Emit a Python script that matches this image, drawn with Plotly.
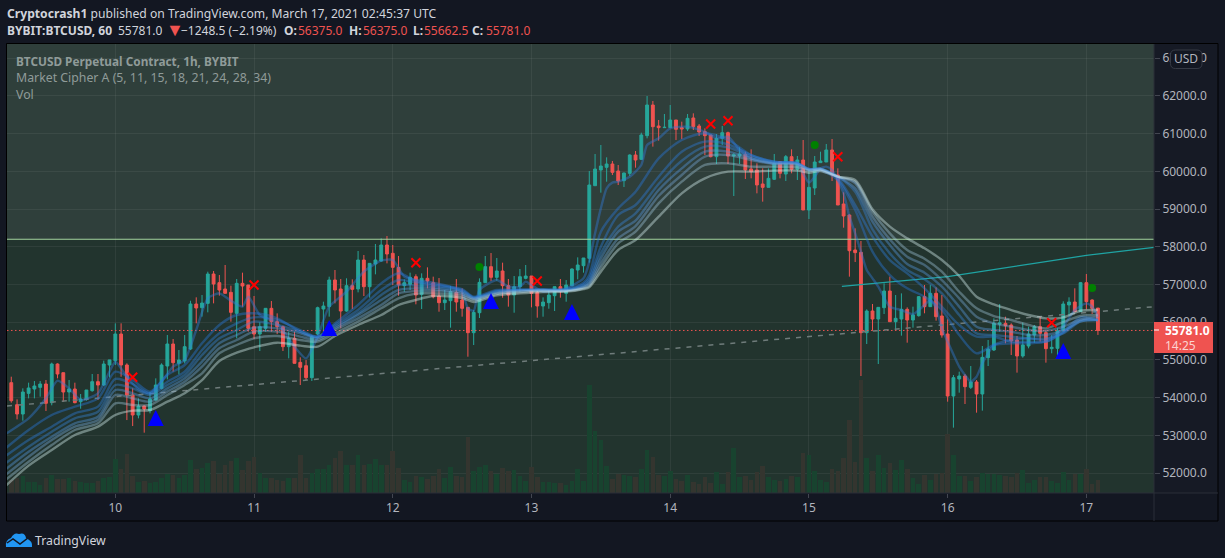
import plotly.graph_objects as go

# hours since March 10 00:00, first candle is March 9 06:00
hours = list(range(-18, 171))

opens = [54396,53812,53565,54113,54228,54272,54361,53866,54891,54661,54148,54228,53892,53954,54184,54423,54334,54865,
54980,55687,54865,54069,53538,53777,53653,53936,54246,54838,55422,54909,54971,55289,56483,56385,56500,57278,57049,56881,56792,56235,57031,56987,
55881,55687,55837,56368,56014,55881,55351,55572,54935,54847,54529,55687,56350,56412,57120,56881,56297,56969,56881,57650,56942,57544,57623,58048,
57827,57455,56969,57004,57208,56739,57164,57048,56695,56518,56571,56792,56589,56394,55722,56252,57048,57473,57190,57358,56969,56721,56942,57163,
57225,56792,56429,56518,56703,56942,56765,56969,57384,57499,57694,59621,60037,60108,60196,60010,59754,59948,60435,60320,60948,61761,61204,61160,
61160,61363,61160,61125,61417,61204,61054,60966,60391,60877,61027,60408,60408,60453,60064,60037,59666,59577,59790,60258,59931,60391,60055,60302,
58976,59560,60232,60249,60568,59905,59135,58843,57915,57853,55722,56297,56085,56385,56827,56014,56085,56341,56058,56174,56678,56412,56766,56165,
55687,54043,54494,54573,54272,54414,54096,55059,55263,55949,55970,55926,55528,55104,55369,55661,55882,55723,55298,55307,55776,56457,56536,56280,
57049,56589,56375]
highs = [54555,53954,54246,54396,54440,54440,54467,54927,54909,54661,54467,54396,54095,54201,54626,54626,54980,55000,
55970,55970,54909,54246,53980,53790,54157,54511,54909,55660,55554,55262,55660,56570,56660,56721,57340,57358,57252,57517,56969,57146,57314,56987,
56695,55997,56368,56562,56235,55908,55749,55749,55068,54997,55660,56412,56544,57208,57385,57146,57164,57137,57889,57783,57561,58074,58225,58286,
58048,57756,57137,57314,57270,57296,57455,57208,57172,56854,56960,57146,56898,56394,56323,57163,57756,57835,57703,57579,57146,57225,57411,57517,
57225,56854,56659,56854,56942,57146,57119,57429,57720,57703,60010,60461,60700,60373,60276,60170,59966,60453,60541,61027,62000,61867,61363,61522,
61761,61363,61319,61522,61540,61257,61142,60966,60992,61204,61054,60480,60638,60523,60585,60214,60081,60081,60462,60276,60435,60585,60408,60833,
60081,60408,60523,60727,60859,60081,59445,58861,58490,58154,56341,56483,56394,57031,57208,56721,56765,56394,56412,56695,56987,56987,56925,56722,
56076,54600,54688,54626,54838,54467,55369,55528,56103,56483,56147,55970,55634,55988,55882,55926,56147,55793,55661,55838,56554,56660,56899,57067,
57279,56607,56375]
lows = [53866,53423,53388,53980,53980,54025,53644,53795,54511,53892,53892,53848,53706,53918,54157,53936,54308,54537,
54865,54555,53405,53246,53450,53070,53583,53918,54219,54484,54688,54617,54909,55263,55970,56147,56262,56500,56704,56766,56014,55572,56412,55749,
55554,55236,55749,55749,55687,55236,55041,54909,54334,54467,54440,55660,55731,56147,56500,55837,56279,56350,56792,56695,56651,57270,57606,57561,
56987,56704,56810,56854,56474,56350,56898,56633,56279,56323,55855,56279,56147,55085,55395,56111,57048,57092,57101,56650,56412,56252,56809,57137,
56394,56120,56146,56358,56297,56650,56544,56969,57137,57314,57579,59621,59436,59727,59904,59639,59586,59878,60099,60302,60877,60656,60815,61160,
61160,60833,60859,61071,61098,60939,60435,60373,60196,60700,60196,59347,60196,59798,59816,59418,59197,59577,59772,59816,59745,59949,59772,58976,
58737,59374,60232,60249,59745,59109,58507,57208,57597,54573,55422,55775,54891,56217,56014,55793,55643,55457,55855,56147,56236,56412,56041,55590,
53892,53203,54131,53830,54228,53601,53654,54838,55236,55749,55440,55130,54662,55059,55307,55457,55484,54927,55175,55069,55758,56165,56262,56280,
56342,56218,55662]
closes = [53918,53565,54148,54255,54308,54361,53848,54891,54626,54148,54228,53866,53963,54201,54423,54334,54891,55000,
55687,54865,54069,53538,53777,53697,53963,54334,54865,55422,54927,54997,55351,56483,56377,56509,57278,57013,56854,56766,56262,57031,56960,55837,
55687,55881,56368,56014,55881,55351,55572,54909,54803,54529,55616,56385,56429,57120,56854,56297,56969,56872,57650,56942,57561,57650,58048,57809,
57455,56987,57049,57190,56721,57164,57093,56677,56518,56589,56809,56536,56368,55722,56261,57057,57473,57190,57358,56969,56721,56942,57207,57225,
56765,56429,56535,56721,56942,56836,56986,57411,57517,57703,59639,60063,60143,60196,59975,59745,59957,60435,60302,60965,61761,61186,61160,61169,
61363,61116,61125,61407,61187,61045,60948,60391,60877,61027,60408,60444,60461,60037,59993,59640,59577,59816,60214,59949,60391,60055,60302,58976,
59577,60249,60276,60568,59905,59109,58817,57897,57845,55722,56297,56085,56394,56827,56014,56103,56341,56058,56191,56678,56412,56766,56147,55661,
54043,54529,54573,54290,54414,54096,55068,55289,55970,55985,55908,55502,55104,55396,55687,55882,55705,55298,55334,55776,56483,56536,56280,57049,
56545,56368,55781]
volumes = [40,45,52,32,32,25,45,55,42,42,45,35,32,30,30,37,45,48,
102,72,118,52,34,36,30,33,45,58,55,45,55,100,72,75,90,97,58,83,95,105,70,97,
108,60,45,45,40,37,45,45,115,45,60,73,73,83,105,125,85,83,115,83,87,102,85,85,
125,75,40,32,52,47,42,52,72,45,77,52,47,167,65,77,85,65,57,75,65,70,52,35,
77,48,32,32,30,30,25,35,72,35,325,187,160,80,42,58,55,52,48,73,130,108,55,52,
65,42,35,55,32,28,48,30,62,28,62,135,47,52,38,62,82,47,38,37,42,52,47,120,
115,65,40,32,72,65,105,220,92,338,105,65,115,75,90,70,98,72,45,28,55,38,58,60,
178,115,52,52,35,47,60,58,58,55,52,47,60,70,30,40,48,48,35,30,62,38,57,57,
72,28,38]

# Market Cipher ribbon; the fast line has its own sample hours
fast_hours = [-19,-15,-12,-10,-8,-6,-3,-1,0,2,4,6,8,10,12,14,16,18,20,22,23,25,28,31,33,35,37,40,43,46,48,50,52,55,58,60,61,62,63,66,68,70,71,72,74,78,81,82,83,84,85,86,87,89,91,92,94,96,99,102,104,106,108,110,112,114,116,118,119,120,121,122,123,124,126,127,128,129,130,131,132,134,136,138,140,141,142,143,144,146,147,148,149,150,151,152,155,158,161,163,164,166,168,169,170]
ema_fast = [53035,53450,53981,54449,54246,53937,54113,54688,54953,54555,54220,54113,54423,54821,54998,55793,56633,56766,56571,56412,56678,56191,55970,55351,55042,55617,56412,56810,57341,57633,57650,57208,57119,57048,56942,56809,56367,56306,56854,57119,56942,56942,57075,56986,56809,56898,57163,57605,58357,59020,59551,59701,59727,59860,60170,60700,60877,61142,61186,61050,60877,60921,60568,60347,60258,60214,60241,60232,59949,59701,59860,60081,60126,60037,59418,58799,58357,57870,57384,57163,56942,56411,56323,56217,56456,56588,56367,55837,55483,54820,54599,54422,54555,54908,55174,55395,55527,55572,55527,55704,55881,56323,56500,56411,56146]

slow_hours = [-19,-15,-11,-7,-3,0,3,6,9,12,15,18,21,24,28,32,35,38,42,46,49,52,55,60,62,66,70,74,78,81,82,84,87,90,94,98,102,106,110,114,118,120,122,125,128,131,134,137,140,143,146,149,152,155,158,161,164,167,170]
ema_2 = [52655,53141,53539,53760,53981,54688,54467,54158,54600,54865,55440,55926,56191,56236,56103,55749,55617,55970,56457,57031,57297,57093,57004,56880,56677,56854,56871,56854,56880,57048,57252,58401,59020,59462,60346,60833,61010,60833,60435,60258,60214,60037,60037,59771,58976,57870,57251,56898,56677,56323,55660,55174,55395,55439,55439,55483,55748,56129,56058]
ema_3 = [52451,52876,53229,53583,53760,54494,54361,54113,54423,54688,55263,55705,55970,56129,56059,55793,55617,55926,56324,56854,57120,57049,56969,56854,56659,56827,56854,56871,56854,57004,57163,58003,58843,59108,59860,60523,60789,60718,60435,60258,60214,60064,60064,59816,59108,58268,57649,57296,56898,56411,55925,55616,55616,55483,55483,55483,55722,56058,56058]
ema_4 = [52257,52699,53097,53450,53627,54334,54246,54069,54334,54600,55130,55572,55793,56014,55926,55749,55599,55882,56236,56722,56987,56969,56925,56827,56650,56810,56854,56871,56854,56969,57101,57826,58534,58887,59666,60284,60656,60638,60391,60241,60214,60064,60064,59860,59462,58463,57826,57384,57137,56765,56190,55704,55660,55616,55572,55572,55704,56022,56058]
ema_5 = [52097,52566,52964,53318,53494,54202,54113,53981,54246,54511,54953,55440,55661,55855,55838,55705,55572,55838,56191,56589,56854,56898,56880,56783,56633,56783,56845,56854,56845,56942,57048,57694,58401,58693,59506,60081,60523,60523,60347,60214,60196,60055,60073,59860,59550,58666,58047,57543,57313,56942,56411,55881,55793,55748,55660,55660,55775,56022,56058]
ema_6 = [51947,52433,52876,53229,53406,54069,53981,53892,54158,54423,54821,55307,55528,55749,55749,55617,55528,55793,56103,56457,56766,56828,56827,56748,56615,56765,56818,56845,56836,56925,57004,57561,58224,58551,59347,59904,60391,60435,60302,60196,60170,60037,60064,59860,59683,58799,58198,57738,57517,57119,56633,56146,55969,55881,55793,55775,55881,56075,56146]
ema_7 = [51815,52301,52743,53141,53318,53848,53804,53804,54069,54334,54644,55175,55396,55572,55634,55528,55484,55705,56014,56368,56633,56757,56765,56695,56589,56748,56801,56827,56827,56898,56960,57455,58092,58401,59153,59727,60170,60214,60126,60126,60108,60020,60046,59860,59727,58931,58357,57915,57685,57340,56809,56367,56164,56058,55925,55837,56005,56164,56190]
ema_8 = [51655,52195,52610,53008,53229,53539,53654,53671,53892,54113,54467,54971,55192,55334,55457,55378,55351,55634,55926,56191,56457,56589,56695,56642,56535,56712,56765,56801,56810,56880,56925,57340,57915,58180,58799,59418,59816,59993,59993,60020,60020,59966,60011,59860,59771,58993,58534,58224,57959,57649,57225,56677,56473,56323,56190,56102,56129,56305,56323]
ema_series = [ema_2, ema_3, ema_4, ema_5, ema_6, ema_7, ema_8]
ema_colors = ["rgba(40,120,220,0.42)", "rgba(45,125,220,0.42)", "rgba(55,130,215,0.42)", "rgba(85,150,220,0.42)",
              "rgba(120,170,220,0.4)", "rgba(165,205,230,0.38)", "rgba(215,240,240,0.42)"]

# signals
buy_hours = [7, 37, 65, 79, 164]
buy_prices = [53459, 55846, 56562, 56270, 55236]
sell_hours = [3, 24, 52, 73, 103, 106, 125, 162]
sell_prices = [54538, 56987, 57578, 57093, 61257, 61345, 60390, 55987]
dot_hours = [63, 121, 169]
dot_prices = [57464, 60700, 56907]

# drawings
level_price = 58200
last_price = 55781
axis_start = -18.74
axis_end = 179.7
trend_hours = [axis_start, axis_end]
trend_prices = [53777, 56411]
teal_hours = [125.7, 144, 159, 168, axis_end]
teal_prices = [56952, 57207, 57562, 57775, 57987]

day_ticks = [0, 24, 48, 72, 96, 120, 144, 168]
day_labels = ["10", "11", "12", "13", "14", "15", "16", "17"]
price_ticks = list(range(52000, 64000, 1000))

FONT = "Noto Sans"
UP = "#26a69a"
DOWN = "#ef5350"
PAGE = "#131722"
TEXT = "#b2b5be"
HEAD = "#d1d4dc"


def px(x):
    return (x - 7) / 1147


def py(y):
    return (493 - y) / 449


def text(x, y, s, color=TEXT, size=12, anchor="left"):
    fig.add_annotation(x=px(x), y=py(y), xref="paper", yref="paper", text=s, showarrow=False,
                       xanchor=anchor, yanchor="middle", align="left", borderpad=0,
                       font=dict(family=FONT, size=size, color=color))


def box_path(x0, y0, x1, y1, r):
    return (f"M {px(x0 + r)},{py(y0)} L {px(x1 - r)},{py(y0)} Q {px(x1)},{py(y0)} {px(x1)},{py(y0 + r)} "
            f"L {px(x1)},{py(y1 - r)} Q {px(x1)},{py(y1)} {px(x1 - r)},{py(y1)} L {px(x0 + r)},{py(y1)} "
            f"Q {px(x0)},{py(y1)} {px(x0)},{py(y1 - r)} L {px(x0)},{py(y0 + r)} Q {px(x0)},{py(y0)} {px(x0 + r)},{py(y0)} Z")


fig = go.Figure()

# volume sits on the base axis so the price traces draw over it
bar_colors = ["#18432f" if c >= o else "#34352f" for o, c in zip(opens, closes)]
fig.add_trace(go.Bar(x=hours, y=volumes, marker=dict(color=bar_colors, line_width=0), width=0.8, yaxis="y"))

fig.add_trace(go.Candlestick(x=hours, open=opens, high=highs, low=lows, close=closes, yaxis="y2", whiskerwidth=0,
                             increasing=dict(line=dict(color=UP, width=1), fillcolor=UP),
                             decreasing=dict(line=dict(color=DOWN, width=1), fillcolor=DOWN)))

fig.add_trace(go.Scatter(x=[axis_start, axis_end], y=[level_price, level_price], yaxis="y2", mode="lines",
                         line=dict(color="#a5d6a0", width=1)))
fig.add_trace(go.Scatter(x=[axis_start, axis_end], y=[last_price, last_price], yaxis="y2", mode="lines",
                         line=dict(color=DOWN, width=1, dash="1.5px,2.5px")))
fig.add_trace(go.Scatter(x=trend_hours, y=trend_prices, yaxis="y2", mode="lines",
                         line=dict(color="#6f7c7b", width=1.5, dash="5px,6px")))
fig.add_trace(go.Scatter(x=teal_hours, y=teal_prices, yaxis="y2", mode="lines",
                         line=dict(color="#1fa3a3", width=1.2)))

fig.add_trace(go.Scatter(x=fast_hours, y=ema_fast, yaxis="y2", mode="lines",
                         line=dict(color="rgba(50,125,220,0.42)", width=2.4, shape="spline", smoothing=0.6)))
for series, color in zip(ema_series, ema_colors):
    fig.add_trace(go.Scatter(x=slow_hours, y=series, yaxis="y2", mode="lines",
                             line=dict(color=color, width=2.4, shape="spline", smoothing=0.8)))

fig.add_trace(go.Scatter(x=sell_hours, y=sell_prices, yaxis="y2", mode="markers",
                         marker=dict(symbol="x-thin", size=9, line=dict(color="#ff0000", width=2))))
fig.add_trace(go.Scatter(x=dot_hours, y=dot_prices, yaxis="y2", mode="markers",
                         marker=dict(symbol="circle", size=8, color="#008000")))

# plotly's triangle-up is too flat, so the buy signals are pixel sized shapes anchored on the data
for h, p in zip(buy_hours, buy_prices):
    fig.add_shape(type="path", xref="x", yref="y2", xsizemode="pixel", ysizemode="pixel", xanchor=h, yanchor=p,
                  path="M -8,-8 L 8,-8 L 0,8 Z", fillcolor="#0000ff", line_width=0, layer="above")

# pane background changes at the horizontal level
fig.add_shape(type="rect", xref="paper", x0=0, x1=1, yref="y2", y0=level_price, y1=63379, layer="below",
              fillcolor="#2f3f3b", line_width=0)
fig.add_shape(type="rect", xref="paper", x0=0, x1=1, yref="y2", y0=51470, y1=level_price, layer="below",
              fillcolor="#22342e", line_width=0)

# price axis pane and frame
fig.add_shape(type="rect", xref="paper", yref="paper", x0=px(1154), x1=px(1218), y0=py(493), y1=py(44),
              layer="below", fillcolor="#161a25", line_width=0)
fig.add_shape(type="rect", xref="paper", yref="paper", x0=px(6.5), x1=px(1218), y0=py(521), y1=py(43.5),
              layer="above", line=dict(color="#000000", width=1))
fig.add_shape(type="line", xref="paper", yref="paper", x0=px(1154), x1=px(1154), y0=py(521), y1=py(44),
              layer="above", line=dict(color="#2a2e39", width=1))
fig.add_shape(type="line", xref="paper", yref="paper", x0=px(7), x1=px(1218), y0=py(493), y1=py(493),
              layer="above", line=dict(color="#2a2e39", width=1))

# last price tag
fig.add_shape(type="rect", xref="paper", yref="paper", x0=px(1154), x1=px(1213), y0=py(353), y1=py(322),
              layer="above", fillcolor=DOWN, line_width=0)
fig.add_shape(type="line", xref="paper", yref="paper", x0=px(1154), x1=px(1159), y0=py(330), y1=py(330),
              layer="above", line=dict(color="#ffffff", width=1))
text(1164, 330.5, "<b>55781.0</b>", "#ffffff")
text(1164, 345, "14:25", "#fbd3d2")

# USD pill over the top tick label
fig.add_shape(type="path", xref="paper", yref="paper", path=box_path(1170.5, 50, 1202, 68.5, 5),
              layer="above", fillcolor="#131722", line=dict(color="#363a45", width=1))
text(1186, 59, "USD", TEXT, 12, "center")

# header
text(6, 13.5, "<b>Cryptocrash1</b> published on TradingView.com, March 17, 2021 02:45:37 UTC", HEAD, 12.15)
text(6, 30, "<b>BYBIT:BTCUSD, 60</b>", HEAD)
text(117, 30, "55781.0", HEAD)
text(164.5, 29.5, "▼", DOWN, 18)
text(180, 30, "−1248.5 (−2.19%)", HEAD)
text(283, 30, "<b>O:</b>", HEAD)
text(297, 30, "56375.0", DOWN)
text(348, 30, "<b>H:</b>", HEAD)
text(362, 30, "56375.0", DOWN)
text(412, 30, "<b>L:</b>", HEAD)
text(423, 30, "55662.5", DOWN)
text(471, 30, "<b>C:</b>", HEAD)
text(485, 30, "55781.0", DOWN)

# pane legend
text(15, 61, "<b>BTCUSD Perpetual Contract, 1h, BYBIT</b>", "#8f9b99", 11.8)
text(15, 77.5, "Market Cipher A (5, 11, 15, 18, 21, 24, 28, 34)", "#8f9b99", 12.3)
text(15, 94.5, "Vol", "#8f9b99", 12.3)

# TradingView mark
cloud = (f"M {px(6)},{py(547)} Q {px(5)},{py(540)} {px(11)},{py(538)} Q {px(14)},{py(532)} {px(19)},{py(534)} "
         f"Q {px(25)},{py(532)} {px(26)},{py(538)} Q {px(33)},{py(541)} {px(32)},{py(547)} Z")
fig.add_shape(type="path", xref="paper", yref="paper", path=cloud, layer="above", fillcolor="#2196f3", line_width=0)
zigzag = f"M {px(7)},{py(543)} L {px(13)},{py(539)} L {px(20)},{py(544)} L {px(28)},{py(538)} L {px(32)},{py(541)}"
fig.add_shape(type="path", xref="paper", yref="paper", path=zigzag, layer="above", line=dict(color=PAGE, width=1.5))
text(34, 540, "TradingView", HEAD, 12.3)

GRID = "rgba(255,255,255,0.06)"
fig.update_layout(
    width=1225, height=558, margin=dict(l=7, r=71, t=44, b=65), showlegend=False,
    paper_bgcolor=PAGE, plot_bgcolor=PAGE, bargap=0,
    font=dict(family=FONT, size=12, color=TEXT),
    xaxis=dict(range=[axis_start, axis_end], rangeslider=dict(visible=False), tickvals=day_ticks, ticktext=day_labels,
               showgrid=True, gridcolor=GRID, gridwidth=1, zeroline=False, showline=False,
               ticks="outside", ticklen=4, tickcolor="#434651", tickfont=dict(size=12, color=TEXT)),
    yaxis=dict(range=[0, 1347], visible=False, fixedrange=True),
    yaxis2=dict(range=[51470, 63379], overlaying="y", side="right", tickvals=price_ticks, tickformat=".1f",
                showgrid=True, gridcolor=GRID, gridwidth=1, zeroline=False, showline=False,
                ticks="outside", ticklen=5, tickcolor="#434651", tickfont=dict(size=12, color=TEXT)),
)

fig.write_html("out.html", config=dict(displayModeBar=False),
               post_script="document.body.style.margin='0';document.body.style.overflow='hidden';")
